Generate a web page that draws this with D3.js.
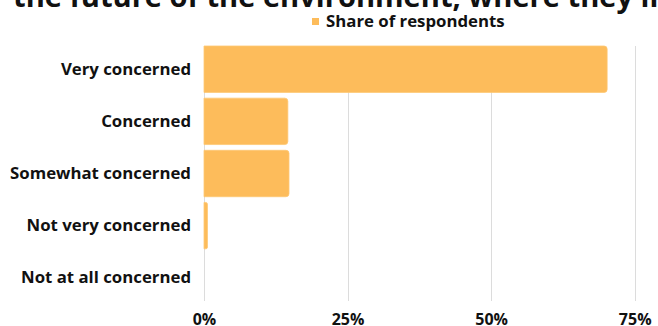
<!DOCTYPE html>
<html>
<head>
<meta charset="utf-8">
<script src="https://cdn.jsdelivr.net/npm/d3@7"></script>
<style>
  html, body { margin: 0; padding: 0; background: #fff; }
  svg { display: block; font-family: "Open Sans", sans-serif; }
</style>
</head>
<body>
<svg id="chart" width="658" height="326"></svg>
<script>
// Survey answers and their share of respondents (%)
const categories = ["Very concerned", "Concerned", "Somewhat concerned", "Not very concerned", "Not at all concerned"];
const shares = [70.2, 14.6, 14.8, 0.6, 0];
const tickValues = [0, 25, 50, 75];
const seriesName = "Share of respondents";
const titleText = "the future of the environment, where they live";

const W = 658, H = 326;
const margin = { left: 204, right: 24, top: 46, bottom: 25 };
const barColor = "#fdbc5b";

const svg = d3.select("#chart");

// Title line (continues past the top edge)
svg.append("text")
  .attr("x", 13).attr("y", 7)
  .attr("font-size", 29.1).attr("font-weight", 700).attr("fill", "#111")
  .text(titleText);

// Legend
const legend = svg.append("g");
legend.append("rect").attr("x", 312).attr("y", 18).attr("width", 7).attr("height", 7).attr("fill", barColor);
legend.append("text").attr("x", 326).attr("y", 26.5)
  .attr("font-size", 16.8).attr("font-weight", 700).attr("fill", "#111")
  .text(seriesName);

const x = d3.scaleLinear().domain([0, 75]).range([margin.left, margin.left + 430.7]);
const y = d3.scaleBand().domain(categories).range([margin.top, H - margin.bottom]).paddingInner(0.11).paddingOuter(0);

// Vertical grid lines
svg.append("g").selectAll("line").data(tickValues).join("line")
  .attr("x1", d => Math.round(x(d)) + 0.5).attr("x2", d => Math.round(x(d)) + 0.5)
  .attr("y1", margin.top).attr("y2", H - margin.bottom)
  .attr("stroke", "#dcdcdc").attr("stroke-width", 1);

// Bars with rounded right ends
const r = 3;
function barPath(d, i) {
  const x0 = x(0), x1 = x(d), y0 = y(categories[i]), h = y.bandwidth();
  const w = x1 - x0;
  if (w <= 0) return "";
  const rr = Math.min(r, w / 2, h / 2);
  return `M${x0},${y0}H${x1 - rr}Q${x1},${y0} ${x1},${y0 + rr}V${y0 + h - rr}Q${x1},${y0 + h} ${x1 - rr},${y0 + h}H${x0}Z`;
}
svg.append("g").selectAll("path").data(shares).join("path")
  .attr("d", barPath)
  .attr("fill", barColor)
  .attr("stroke", "#fec874").attr("stroke-width", 0.8);

// Category axis
const yAxis = svg.append("g").attr("transform", `translate(${margin.left - 13},0)`)
  .call(d3.axisLeft(y).tickSize(0).tickPadding(0));
yAxis.select(".domain").remove();
yAxis.selectAll("text").attr("font-size", 16.8).attr("font-weight", 700).attr("fill", "#111")
  .attr("font-family", "Open Sans, sans-serif");

// Value axis
const xAxis = svg.append("g").attr("transform", `translate(0,${H - margin.bottom})`)
  .call(d3.axisBottom(x).tickValues(tickValues).tickFormat(d => d + "%").tickSize(0).tickPadding(13));
xAxis.select(".domain").remove();
xAxis.selectAll("text").attr("font-size", 16).attr("font-weight", 700).attr("fill", "#111")
  .attr("font-family", "Open Sans, sans-serif");
</script>
</body>
</html>
